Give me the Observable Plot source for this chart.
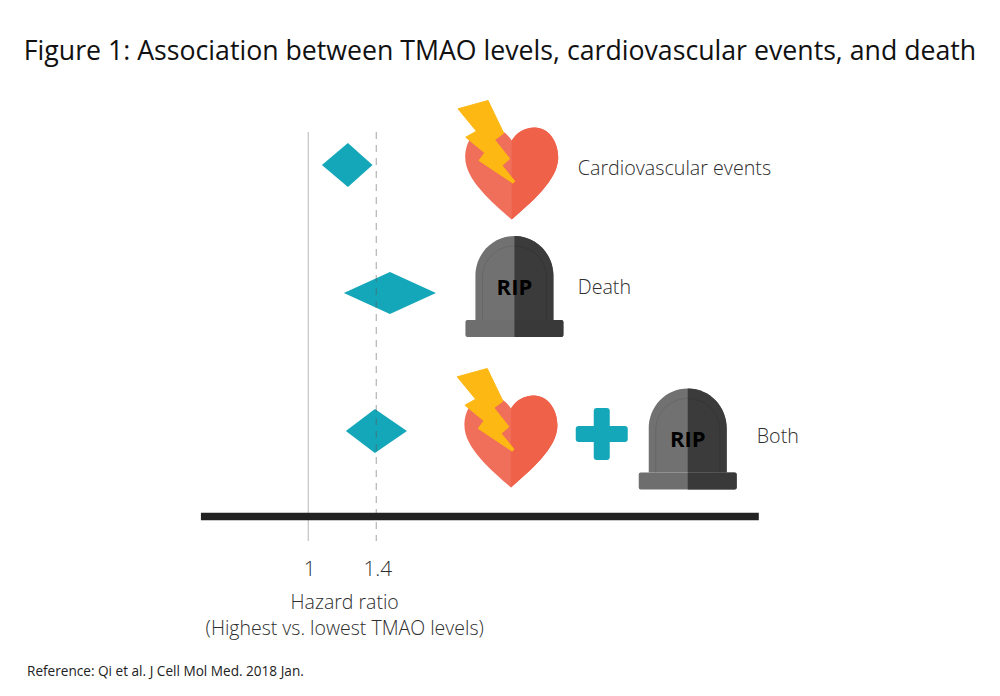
<!DOCTYPE html>
<html><head><meta charset="utf-8">
<script src="https://cdn.jsdelivr.net/npm/d3@7"></script>
<script src="https://cdn.jsdelivr.net/npm/@observablehq/plot@0.6"></script>
<style>
html,body{margin:0;padding:0;background:#fff;width:1000px;overflow:hidden}
#title{height:90px;box-sizing:border-box;padding-top:30px;text-align:center;font:400 26.7px/40px "Open Sans",sans-serif;color:#111;white-space:nowrap}
#caption{position:absolute;left:27px;top:661px;font:400 13.6px/20px "Open Sans",sans-serif;color:#222}
svg{display:block}
</style></head><body>
<div id="title">Figure 1: Association between TMAO levels, cardiovascular events, and death</div>
<div id="chart"></div>
<div id="caption">Reference: Qi et al. J Cell Mol Med. 2018 Jan.</div>
<script>
// Forest-plot values (hazard ratio: low, estimate, high)
const outcomes = ["Cardiovascular events", "Death", "Both"];
const hrLow  = [1.084, 1.214, 1.226];
const hrEst  = [1.238, 1.487, 1.398];
const hrHigh = [1.384, 1.76, 1.588];
const rowY   = [165, 293, 431];
const rowTop = [143, 272, 409];
const rowBot = [187, 314, 453];
const labelX = [2.597, 2.597, 3.658];
const labelY = [168, 287, 436];
const xTicks = [1, 1.403];
const xTickLabels = ["1", "1.4"];
const axisLabel = ["Hazard ratio", "(Highest vs. lowest TMAO levels)"];
const heartX = [2.2059, 2.2012];
const heartY = [165, 433];
const tombX = [2.2219, 3.2489];
const tombY = [285.5, 438];
const plusX = [2.7393];
const plusY = [433.5];

const C = {teal:"#14a7b9", heartL:"#ef6f5b", heartR:"#f0614a", bolt:"#fdb813",
  tombL:"#717171", tombR:"#3b3b3b", baseL:"#6e6e6e", baseR:"#393939", bar:"#222222"};

const diamonds = outcomes.flatMap((o,i)=>[
  {o, x:hrLow[i],  y1:rowY[i],   y2:rowY[i]},
  {o, x:hrEst[i],  y1:rowTop[i], y2:rowBot[i]},
  {o, x:hrHigh[i], y1:rowY[i],   y2:rowY[i]}
]);

// icon outlines, drawn as custom Plot symbols
const sym = draw => ({draw});
const both = f => sym(c=>{ f(-1).draw(c); f(1).draw(c); });
const heartHalf = s => sym(c=>{
  c.moveTo(0,-25); c.bezierCurveTo(s*5,-33,s*13,-38,s*23,-38);
  c.bezierCurveTo(s*37,-38,s*46.5,-24,s*46.5,-8);
  c.bezierCurveTo(s*46.5,15,s*18,38,0,54); c.closePath();
});
const boltPts = [[-53.7,-56.7],[-23.7,-65],[-8,-32.3],[-17,-25.7],[-2,-6.7],[-9.7,0],[3,15.7],[1.3,17.7],[-32.7,-5],[-27,-12.7],[-46,-28.3],[-35.3,-34.3]];
const bolt = sym(c=>{ boltPts.forEach((p,i)=> i?c.lineTo(p[0],p[1]):c.moveTo(p[0],p[1])); c.closePath(); });
const tombHalf = s => sym(c=>{
  c.moveTo(0,-50); c.bezierCurveTo(s*22,-50,s*39,-32,s*39,-10);
  c.lineTo(s*39,34); c.lineTo(0,34); c.closePath();
});
const tombInner = s => sym(c=>{
  c.moveTo(0,-40); c.bezierCurveTo(s*18,-40,s*32,-26,s*32,-8); c.lineTo(s*32,34);
});
const tombBase = s => sym(c=>{
  c.moveTo(0,34); c.lineTo(s*47,34); c.quadraticCurveTo(s*49,34,s*49,36);
  c.lineTo(s*49,49); c.quadraticCurveTo(s*49,51,s*47,51); c.lineTo(0,51); c.closePath();
});
const plusShape = sym(c=>{
  const a=8,b=26,r=3;
  const q=[[a,-b],[a,-a],[b,-a],[b,a],[a,a],[a,b],[-a,b],[-a,a],[-b,a],[-b,-a],[-a,-a],[-a,-b]];
  c.moveTo(-a+r,-b);
  const n=q.length;
  q.forEach((p,i)=>{ const nx=q[(i+1)%n]; c.arcTo(p[0],p[1],nx[0],nx[1], (i%3===1)?0.01:r); });
  c.closePath();
});
const icon = (X,Y,symbol,fill,extra={}) =>
  Plot.dot(X.map((x,i)=>({x,y:Y[i]})),{x:"x",y:"y",r:1,symbol,fill,stroke:"none",...extra});

const H = 560;
const chart = Plot.plot({
  width:1000, height:H,
  marginLeft:0, marginRight:0, marginTop:0, marginBottom:109,
  x:{domain:[-0.8236,5.1023], range:[0,1000], axis:null},
  y:{domain:[90,541], range:[0,451], axis:null},
  style:{fontFamily:'"Open Sans",sans-serif', background:"#fff", overflow:"visible"},
  marks:[
    Plot.ruleX([1],{y1:132,y2:541,stroke:"#b8b8b8",strokeWidth:1}),
    Plot.areaY(diamonds,{x:"x",y1:"y1",y2:"y2",z:"o",fill:C.teal}),
    Plot.ruleX([1.403],{y1:132,y2:541,stroke:"#5a5a5a",strokeOpacity:0.55,strokeWidth:1,strokeDasharray:"7,6"}),
    Plot.ruleY([516],{x1:0.367,x2:3.673,stroke:C.bar,strokeWidth:7.5}),
    icon(heartX,heartY,both(heartHalf),C.heartL),
    icon(heartX,heartY,heartHalf(1),C.heartR),
    icon(heartX,heartY,bolt,C.bolt,{stroke:C.bolt,strokeWidth:1,strokeLinejoin:"round"}),
    icon(tombX,tombY,both(tombHalf),C.tombL),
    icon(tombX,tombY,tombHalf(1),C.tombR),
    icon(tombX,tombY,tombInner(-1),"none",{stroke:"#676767",strokeWidth:1}),
    icon(tombX,tombY,tombInner(1),"none",{stroke:"#353535",strokeWidth:1}),
    icon(tombX,tombY,both(tombBase),C.baseL),
    icon(tombX,tombY,tombBase(1),C.baseR),
    icon(plusX,plusY,plusShape,C.teal),
    Plot.text(tombX.map((x,i)=>({x,y:tombY[i]+1.5})),{x:"x",y:"y",text:()=>"RIP",fontSize:22,fontWeight:700,fill:"#000"}),
    Plot.text(outcomes.map((t,i)=>({t,x:labelX[i],y:labelY[i]})),{x:"x",y:"y",text:"t",textAnchor:"start",fontSize:19.7,fontWeight:300,fill:"#2e2e2e"}),
    Plot.text(xTicks,{x:d=>d,y:()=>569,dx:1.5,text:(d,i)=>xTickLabels[i],fontSize:20.8,fontWeight:300,fill:"#2e2e2e"}),
    Plot.text(axisLabel,{x:()=>1.216,y:(d,i)=>[602,628][i],text:d=>d,fontSize:19.5,fontWeight:300,fill:"#2e2e2e"})
  ]
});
document.getElementById("chart").append(chart);
</script></body></html>
